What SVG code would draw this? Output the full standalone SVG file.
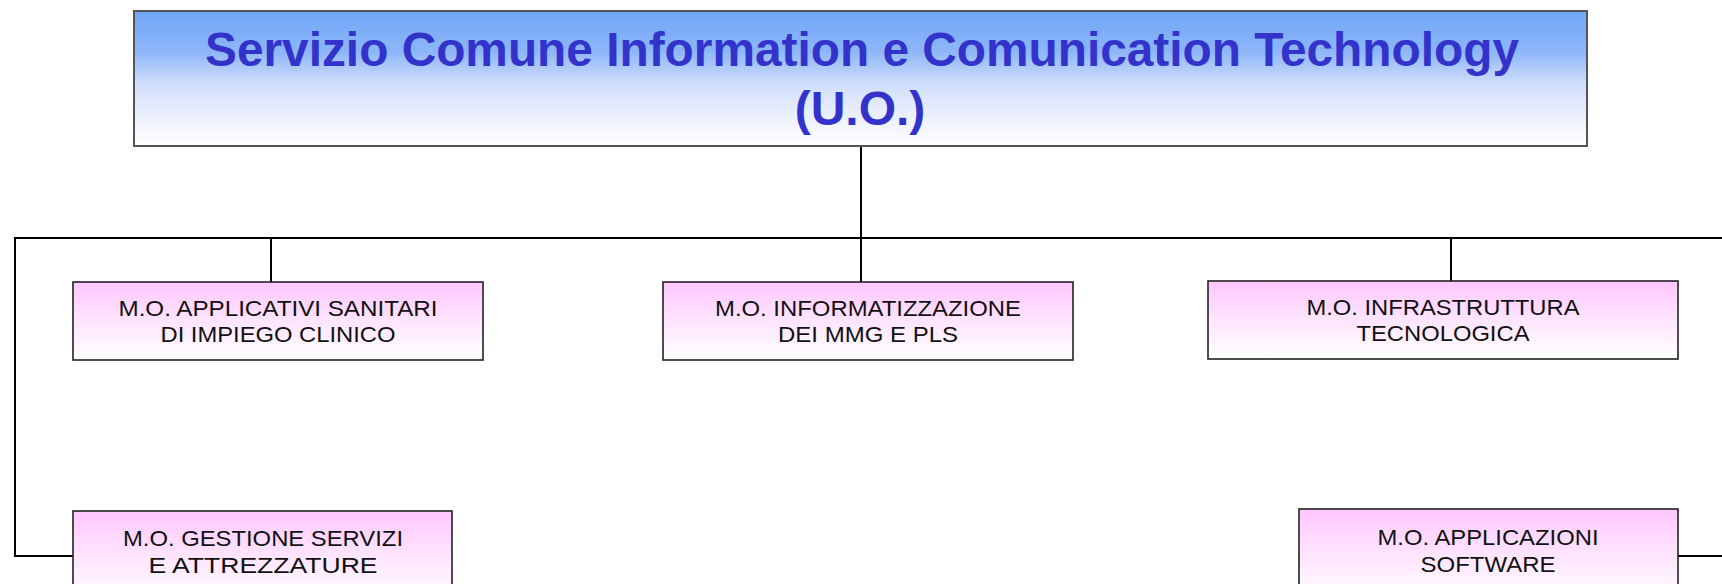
<svg xmlns="http://www.w3.org/2000/svg" width="1722" height="584" viewBox="0 0 1722 584">
<defs>
<linearGradient id="gTop" x1="0" y1="0" x2="0" y2="1">
<stop offset="0" stop-color="#70A6F7"/>
<stop offset="0.3" stop-color="#8DB6F8"/>
<stop offset="0.55" stop-color="#D2DFFA"/>
<stop offset="0.8" stop-color="#EEF2FD"/>
<stop offset="1" stop-color="#FFFFFF"/>
</linearGradient>
<linearGradient id="gPink" x1="0" y1="0" x2="0" y2="1">
<stop offset="0" stop-color="#FFC6FF"/>
<stop offset="0.45" stop-color="#FFE2FF"/>
<stop offset="1" stop-color="#FFFFFF"/>
</linearGradient>
</defs>
<style>
.title{font-family:"Liberation Sans",Arial,sans-serif;font-weight:bold;font-size:48px;fill:#3333CC;text-anchor:middle}
.lbl{font-family:"Liberation Sans",Arial,sans-serif;font-size:22px;fill:#111;text-anchor:middle}
.box{fill:url(#gPink);stroke:#222;stroke-width:1.6}
.conn{stroke:#000;stroke-width:2;fill:none}
</style>
<rect width="1722" height="584" fill="#FFFFFF"/>
<g id="connectors">
<line class="conn" x1="861" y1="146" x2="861" y2="238"/>
<line class="conn" x1="14" y1="238" x2="1722" y2="238"/>
<line class="conn" x1="271" y1="238" x2="271" y2="282"/>
<line class="conn" x1="861" y1="238" x2="861" y2="282"/>
<line class="conn" x1="1451" y1="238" x2="1451" y2="281"/>
<polyline class="conn" points="15,238 15,556 73,556"/>
<line class="conn" x1="1678" y1="556" x2="1722" y2="556"/>
</g>
<g id="root">
<rect x="134" y="11" width="1453" height="135" fill="url(#gTop)" stroke="#555" stroke-width="2"/>
<text class="title" x="862" y="66" textLength="1314" lengthAdjust="spacingAndGlyphs">Servizio Comune Information e Comunication Technology</text>
<text class="title" x="860" y="125">(U.O.)</text>
</g>
<g id="n1">
<rect class="box" x="73" y="282" width="410" height="78"/>
<text class="lbl" x="278" y="316" textLength="319" lengthAdjust="spacingAndGlyphs">M.O. APPLICATIVI SANITARI</text>
<text class="lbl" x="278" y="342" textLength="235" lengthAdjust="spacingAndGlyphs">DI IMPIEGO CLINICO</text>
</g>
<g id="n2">
<rect class="box" x="663" y="282" width="410" height="78"/>
<text class="lbl" x="868" y="316" textLength="306" lengthAdjust="spacingAndGlyphs">M.O. INFORMATIZZAZIONE</text>
<text class="lbl" x="868" y="342" textLength="180" lengthAdjust="spacingAndGlyphs">DEI MMG E PLS</text>
</g>
<g id="n3">
<rect class="box" x="1208" y="281" width="470" height="78"/>
<text class="lbl" x="1443" y="315" textLength="273" lengthAdjust="spacingAndGlyphs">M.O. INFRASTRUTTURA</text>
<text class="lbl" x="1443" y="341" textLength="173" lengthAdjust="spacingAndGlyphs">TECNOLOGICA</text>
</g>
<g id="n4">
<rect class="box" x="73" y="511" width="379" height="90"/>
<text class="lbl" x="263" y="546" textLength="280" lengthAdjust="spacingAndGlyphs">M.O. GESTIONE SERVIZI</text>
<text class="lbl" x="263" y="573" textLength="229" lengthAdjust="spacingAndGlyphs">E ATTREZZATURE</text>
</g>
<g id="n5">
<rect class="box" x="1299" y="509" width="379" height="92"/>
<text class="lbl" x="1488" y="545" textLength="221" lengthAdjust="spacingAndGlyphs">M.O. APPLICAZIONI</text>
<text class="lbl" x="1488" y="572" textLength="135" lengthAdjust="spacingAndGlyphs">SOFTWARE</text>
</g>
</svg>
